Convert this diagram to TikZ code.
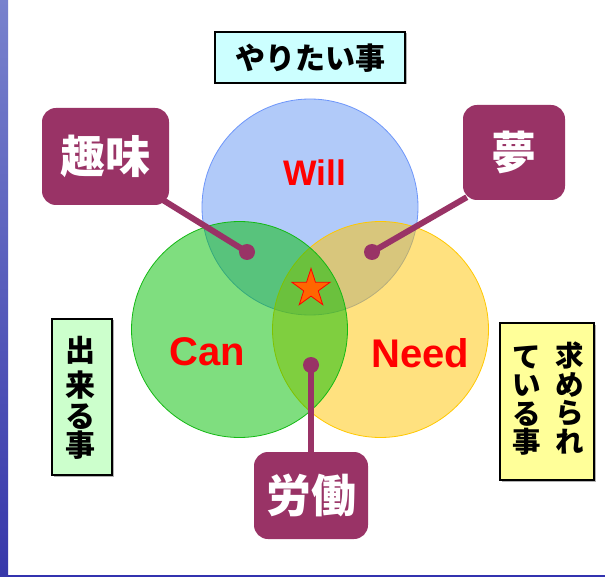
\documentclass[tikz,border=0pt]{standalone}
\usepackage{fontspec}
\setmainfont{Liberation Sans}
\newfontfamily\jp{Noto Sans CJK JP}
\usetikzlibrary{shapes.geometric}
\definecolor{willfill}{RGB}{100,150,245}
\definecolor{willline}{RGB}{110,150,250}
\definecolor{canfill}{RGB}{0,190,0}
\definecolor{canline}{RGB}{20,185,20}
\definecolor{needfill}{RGB}{255,196,0}
\definecolor{needline}{RGB}{255,200,0}
\definecolor{plum}{RGB}{153,51,102}
\definecolor{starfill}{RGB}{255,102,0}
\definecolor{edgeblue}{RGB}{50,50,175}
\definecolor{lcyan}{RGB}{204,255,255}
\definecolor{lgreen}{RGB}{204,255,204}
\definecolor{lyellow}{RGB}{255,255,153}
\begin{document}
\begin{tikzpicture}[x=1pt,y=-1pt,
  venn/.style={circle,minimum size=216pt,inner sep=0pt,fill opacity=0.5,line width=0.8pt},
  word/.style={text=red,font=\bfseries\fontsize{40}{40}\selectfont,inner sep=0pt,anchor=base},
  plumbox/.style={fill=plum,rounded corners=14pt,inner sep=0pt,text=white,font=\jp\bfseries\fontsize{45}{45}\selectfont},
  dotnode/.style={circle,fill=plum,minimum size=16pt,inner sep=0pt},
  wire/.style={draw=plum,line width=6pt},
  tagbox/.style={draw=black,line width=1.4pt,inner sep=0pt},
  tagshadow/.style={fill=black!30},
  jpch/.style={font=\jp\bfseries\fontsize{30}{30}\selectfont,inner sep=0pt},
  jpsm/.style={font=\jp\bfseries\fontsize{28.5}{28.5}\selectfont,inner sep=0pt}
]
\useasboundingbox (0,0) rectangle (605,577);
\fill[white] (0,0) rectangle (605,577);
\shade[top color={rgb,255:red,120;green,130;blue,205},bottom color={rgb,255:red,55;green,55;blue,170}] (0,0) rectangle (8,577);
\fill[edgeblue] (8,575) rectangle (605,577);

% circles
\node[venn,fill=willfill,draw=willline] (will) at (310,207) {};
\node[venn,fill=needfill,draw=needline] (need) at (380.5,329.5) {};
\node[venn,fill=canfill,draw=canline] (can) at (239.5,329.5) {};

\node[word,font=\bfseries\fontsize{35.5}{36}\selectfont] (willt) at (314.5,185.7) {Will};
\node[word] (cant) at (207,365) {Can};
\node[word] (needt) at (420.5,367) {Need};

\node[star,star points=5,star point ratio=2.618,minimum size=40pt,inner sep=0pt,fill=starfill,draw=red,line width=0.8pt] (star) at (311,288.5) {};

% callout boxes
\node[plumbox,minimum width=127pt,minimum height=97pt] (hobby) at (105.5,156.5) {趣味};
\node[plumbox,minimum width=102pt,minimum height=95pt] (dream) at (514,152.5) {夢};
\node[plumbox,minimum width=114pt,minimum height=87pt] (labor) at (311,495.5) {労働};

\node[dotnode] (d1) at (247,252) {};
\node[dotnode] (d2) at (372,252) {};
\node[dotnode] (d3) at (311,365) {};

\draw[wire] ([xshift=-6pt,yshift=5pt]hobby.south east) -- (d1.center);
\draw[wire] ([xshift=4pt,yshift=3pt]dream.south west) -- (d2.center);
\draw[wire] (labor.north) -- (d3.center);

% tag boxes
\fill[tagshadow] (216.5,33.5) rectangle (406.5,84.5);
\node[tagbox,fill=lcyan,minimum width=190pt,minimum height=51pt] (want) at (310,57.5) {};
\node[jpch] (wantt) at (310,58) {やりたい事};

\fill[tagshadow] (53.5,320.5) rectangle (113.5,476.5);
\node[tagbox,fill=lgreen,minimum width=60pt,minimum height=156pt] (able) at (82,397) {};
\node[jpch] (a1) at (80,350) {出};
\node[jpch] (a2) at (80,385) {来};
\node[jpch] (a3) at (80,417) {る};
\node[jpch] (a4) at (80,445) {事};

\fill[tagshadow] (501.5,324.5) rectangle (595.5,481.5);
\node[tagbox,fill=lyellow,minimum width=94pt,minimum height=157pt] (req) at (547,401.5) {};
\node[jpsm] (r1) at (570,356) {求};
\node[jpsm] (r2) at (570,385) {め};
\node[jpsm] (r3) at (570,413) {ら};
\node[jpsm] (r4) at (570,442) {れ};
\node[jpsm] (l1) at (527,357) {て};
\node[jpsm] (l2) at (527,386) {い};
\node[jpsm] (l3) at (527,414) {る};
\node[jpsm] (l4) at (527,442) {事};
\end{tikzpicture}
\end{document}
